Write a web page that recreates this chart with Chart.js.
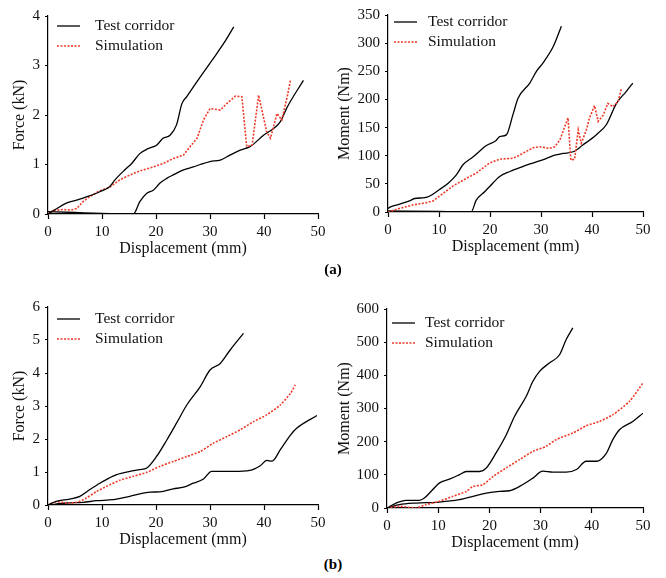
<!DOCTYPE html>
<html>
<head>
<meta charset="utf-8">
<script src="https://cdn.jsdelivr.net/npm/chart.js@4.4.1/dist/chart.umd.min.js"></script>
<style>
  body { margin: 0; background: #fff; }
  #wrap { position: relative; width: 666px; height: 578px; }
  canvas { position: absolute; }
  .tag { position: absolute; font: bold 15px "Liberation Serif", serif; width: 40px; text-align: center; }
</style>
</head>
<body>
<div id="wrap">
  <canvas id="c1" width="333" height="262" style="left:0;top:0"></canvas>
  <canvas id="c2" width="333" height="260" style="left:333px;top:0"></canvas>
  <canvas id="c3" width="333" height="263" style="left:0;top:290px"></canvas>
  <canvas id="c4" width="333" height="266" style="left:333px;top:290px"></canvas>
  <div class="tag" style="left:313px;top:261px">(a)</div>
  <div class="tag" style="left:313px;top:556px">(b)</div>
</div>
<script>
// x ticks shared by all panels
const dispTicks = [0, 10, 20, 30, 40, 50];

// (a) force, kN
const aForceUpper = [[0,0],[1.5,0.1],[3.4,0.22],[5.3,0.28],[7.5,0.36],[9.6,0.45],[11.4,0.55],[12.4,0.69],[14.2,0.89],[15.5,1.02],[17,1.22],[18.5,1.32],[20.1,1.39],[21.3,1.53],[22.6,1.59],[23.8,1.8],[24.8,2.23],[25.7,2.37],[28.2,2.77],[30.6,3.14],[32.5,3.44],[34.4,3.78]];
const aForceLower = [[0,0.05],[5,0.03],[10,0.01],[15,0],[15.8,0],[17,0.25],[18.3,0.42],[19.5,0.48],[20.7,0.62],[22,0.72],[23.2,0.79],[25.1,0.89],[26.9,0.95],[28.2,1.0],[30,1.06],[31.9,1.09],[33.7,1.19],[35.6,1.29],[37.4,1.36],[39.9,1.59],[43,1.86],[44.3,2.16],[47.3,2.7]];
const aForceSim = [[0,0],[0.9,0.07],[2.8,0.09],[4.3,0.08],[5.3,0.11],[6.5,0.25],[7.7,0.35],[9.6,0.47],[11.4,0.54],[13.3,0.69],[15.2,0.79],[17,0.87],[19.5,0.95],[21.3,1.02],[23.2,1.12],[25.1,1.19],[26.3,1.36],[27.6,1.53],[28.8,1.9],[30,2.13],[31.9,2.1],[33.1,2.23],[34.7,2.38],[35.9,2.37],[36.8,1.36],[37.8,1.39],[39,2.4],[40.5,1.66],[41.2,1.53],[42.4,2.03],[43.3,1.9],[44.3,2.37],[44.9,2.7]];

// (a) moment, Nm
const aMomUpper = [[0,6],[0.3,8.3],[2.3,14],[4.2,19.6],[5.2,24],[7.2,25.5],[8.2,28.5],[10.1,40],[11.8,51],[13.4,66],[14.7,84],[16.7,98],[19.3,118],[21.2,127],[21.9,134],[23.2,137],[24.5,173],[25.5,202],[27.8,229],[29.1,250],[30.4,265],[32.4,294],[34,330]];
const aMomLower = [[0,2],[10,1],[16,0],[16.3,0],[17.3,21],[18.95,36],[19.9,45],[21.9,63],[23.9,72],[26.5,81],[28.4,87],[31,95],[32.7,101],[34.3,104],[36.3,107],[38.2,119],[40.8,137],[42.8,155],[44.8,193],[46.7,214],[48,229]];
const aMomSim = [[0,0],[2.3,6.5],[4.9,12.5],[7.5,16.6],[8.8,19.6],[10.8,33],[12.7,46],[15.4,60],[17.3,69],[19.9,87],[21.9,94],[24.5,95.5],[25.8,101],[28.4,114],[29.7,116],[31.7,113],[32.7,116],[33.7,128],[35.3,167],[35.8,98],[35.9,92],[36.6,94],[37.3,146],[37.9,122],[38.9,146],[39.5,167],[40.5,189],[41.2,161],[42.2,172],[43.1,193],[44.1,187],[45.1,196],[45.8,220]];

// (b) force, kN
const bForceUpper = [[0,0],[1.5,0.11],[4,0.18],[5.9,0.26],[7.7,0.46],[9.6,0.66],[10.8,0.77],[12.7,0.92],[15.2,1.02],[17,1.07],[18.3,1.12],[20.1,1.47],[22,1.97],[23.8,2.48],[25.7,3.03],[28.2,3.59],[30,4.09],[31.9,4.29],[33.7,4.69],[36.2,5.2]];
const bForceLower = [[0,0],[3.4,0.06],[6.5,0.08],[9,0.13],[12.1,0.16],[14.5,0.24],[17,0.34],[18.9,0.39],[20.7,0.4],[23.2,0.49],[25.1,0.54],[26.9,0.66],[28.8,0.79],[30.3,1.02],[31.9,1.02],[34.3,1.02],[37.4,1.05],[39.3,1.19],[40.5,1.35],[41.5,1.33],[43,1.67],[44.9,2.12],[46.1,2.33],[49.8,2.71]];
const bForceSim = [[0,0],[1.5,0.1],[3.4,0.06],[5.3,0.08],[7.1,0.21],[9,0.41],[10.8,0.56],[13.3,0.75],[15.8,0.87],[18.3,0.99],[20.7,1.17],[23.2,1.32],[25.7,1.47],[28.2,1.62],[30.6,1.87],[33.1,2.07],[35.6,2.28],[38.1,2.53],[40.5,2.73],[43,3.03],[44.9,3.38],[45.8,3.64]];

// (b) moment, Nm
const bMomUpper = [[0,0],[1.8,15],[3.7,23],[6.3,23],[7.3,30],[8.9,55],[10.2,75],[12.2,87],[14.1,100],[15.5,110],[18.1,110],[19.4,121],[21.3,166],[23.3,221],[24.9,276],[27.2,337],[28.5,382],[29.8,412],[31.7,437],[33.7,462],[35,508],[36.3,543]];
const bMomLower = [[0,0],[2.4,10],[5.7,15],[10.2,18],[14.1,25],[16.8,35],[19.4,45],[22,50],[23.9,52],[25.9,65],[28.5,90],[30.4,111],[32.4,108],[35,108],[37,116],[38.9,141],[40.9,141],[42.8,164],[44.1,206],[45.4,236],[48,261],[50,286]];
const bMomSim = [[0,0],[2.4,5],[5.7,0],[7.6,10],[10.2,20],[12.8,35],[15.5,50],[16.8,65],[18.7,70],[20.7,95],[23.3,121],[25.9,146],[28.5,171],[31.1,186],[33,206],[36.3,226],[38.9,248],[41.5,261],[44.1,281],[47.4,322],[50,377]];

const serif = '"Liberation Serif", "Times New Roman", serif';
const RED = '#ee3a28';

const toXY = arr => arr.map(p => ({ x: p[0], y: p[1] }));

// legend drawn inside plot area, top-left
const insideLegend = {
  id: 'insideLegend',
  afterDraw(chart, args, opts) {
    const { ctx, chartArea } = chart;
    const x0 = chartArea.left + opts.dx, ys = [chartArea.top + opts.dy, chartArea.top + opts.dy + 20];
    ctx.save();
    ctx.font = '15.5px ' + serif;
    ctx.textBaseline = 'middle';
    chart.data.datasets.forEach((ds, i) => {
      if (i > 1) return;
      const y = ys[i];
      ctx.beginPath();
      ctx.strokeStyle = i === 0 ? '#000' : RED;
      ctx.lineWidth = i === 0 ? 1.3 : 1.6;
      ctx.setLineDash(i === 0 ? [] : [2, 1.5]);
      ctx.moveTo(x0, y);
      ctx.lineTo(x0 + 23, y);
      ctx.stroke();
      ctx.setLineDash([]);
      ctx.fillStyle = '#111';
      ctx.fillText(i === 0 ? 'Test corridor' : 'Simulation', x0 + opts.tx, y);
    });
    ctx.restore();
  }
};

function makeChart(id, lay, yMax, yStep, yTitle, upper, lower, sim, simTension) {
  const cv = document.getElementById(id);
  const axisH = 48;
  new Chart(cv, {
    type: 'line',
    data: {
      datasets: [
        { label: 'Test corridor', data: toXY(upper), borderColor: '#000', borderWidth: 1.3, pointRadius: 0, cubicInterpolationMode: 'monotone' },
        { label: 'Simulation', data: toXY(sim), borderColor: RED, borderWidth: 1.6, borderDash: [2, 1.5], pointRadius: 0, tension: simTension },
        { label: 'Test corridor lower', data: toXY(lower), borderColor: '#000', borderWidth: 1.3, pointRadius: 0, cubicInterpolationMode: 'monotone' }
      ]
    },
    options: {
      responsive: false,
      animation: false,
      layout: { padding: { left: 0, top: lay.top, right: lay.right, bottom: 0 } },
      plugins: {
        legend: { display: false },
        tooltip: { enabled: false },
        insideLegend: lay.legend
      },
      scales: {
        x: {
          type: 'linear', min: 0, max: 50,
          afterBuildTicks: s => { s.ticks = dispTicks.map(v => ({ value: v })); },
          afterFit: s => { s.height = axisH; },
          border: { display: true, color: '#000', width: 1.2 },
          grid: { drawOnChartArea: false, drawTicks: true, tickLength: 5, color: '#000', tickWidth: 1.2 },
          ticks: { padding: 4, color: '#111', font: { family: serif, size: 15 }, maxRotation: 0 },
          title: { display: true, text: 'Displacement (mm)', color: '#111', font: { family: serif, size: 16 }, padding: { top: 0, bottom: 3.4 } }
        },
        y: {
          type: 'linear', min: 0, max: yMax,
          ticks: { stepSize: yStep, padding: 5, color: '#111', font: { family: serif, size: 15 } },
          afterFit: s => { s.width = lay.left; },
          border: { display: true, color: '#000', width: 1.2 },
          grid: { drawOnChartArea: false, drawTicks: true, tickLength: 3, color: '#000', tickWidth: 1.2 },
          title: { display: true, text: yTitle, color: '#111', font: { family: serif, size: 16 }, padding: { top: lay.ytp, bottom: 0 } }
        }
      }
    },
    plugins: [insideLegend]
  });
}

makeChart('c1', { left: 48, top: 16, right: 15, ytp: 10, legend: { dx: 9, dy: 10, tx: 38 } }, 4, 1, 'Force (kN)', aForceUpper, aForceLower, aForceSim, 0);
makeChart('c2', { left: 55, top: 15, right: 23, ytp: 2.4, legend: { dx: 6, dy: 7, tx: 34 } }, 350, 50, 'Moment (Nm)', aMomUpper, aMomLower, aMomSim, 0);
makeChart('c3', { left: 48, top: 17, right: 15, ytp: 10, legend: { dx: 9, dy: 12, tx: 38 } }, 6, 1, 'Force (kN)', bForceUpper, bForceLower, bForceSim, 0.2);
makeChart('c4', { left: 54, top: 19, right: 23, ytp: 2.4, legend: { dx: 5, dy: 14, tx: 33 } }, 600, 100, 'Moment (Nm)', bMomUpper, bMomLower, bMomSim, 0.2);
</script>
</body>
</html>
